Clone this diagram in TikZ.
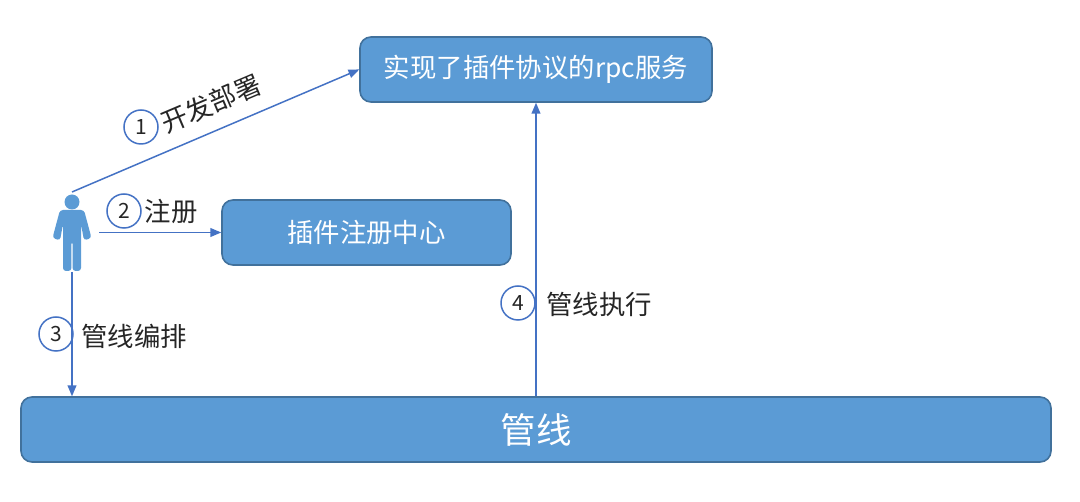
\documentclass[tikz,border=0pt]{standalone}
\usepackage{fontspec}
\setmainfont{Noto Sans CJK SC}
\usetikzlibrary{arrows,%
                shapes,positioning}
\definecolor{boxfill}{HTML}{5B9BD5}
\definecolor{boxline}{HTML}{41719C}
\definecolor{arrowline}{HTML}{4472C4}
\definecolor{labeltext}{HTML}{262626}
\newcommand{\fsize}[1]{\fontsize{#1}{#1}\selectfont}
\tikzset{
  bluebox/.style={draw=boxline, line width=1.6pt, fill=boxfill, rounded corners=11pt, text=white, inner sep=0pt},
  flow/.style={draw=arrowline, line width=1.5pt, -triangle 45},
  numcircle/.style={circle, draw=arrowline, line width=1.5pt, minimum size=34pt, inner sep=0pt, text=labeltext, font=\fsize{21}},
  steplabel/.style={text=labeltext, inner sep=0pt, font=\fsize{26.4}},
}
\begin{document}
\begin{tikzpicture}[x=1pt,y=-1pt]
\useasboundingbox (0,0) rectangle (1080,502);
\node[bluebox, minimum width=352pt, minimum height=65pt, font=\fsize{26.4}] (service) at (536,69.5) {实现了插件协议的rpc服务};
\node[bluebox, minimum width=289pt, minimum height=65pt, font=\fsize{26.4}] (registry) at (366.5,232.5) {插件注册中心};
\node[bluebox, minimum width=1030pt, minimum height=65pt, font=\fsize{35.5}] (pipeline) at (536,429.5) {管线};
% person
\node[circle, fill=boxfill, minimum size=15pt, inner sep=0pt] (head) at (72,202) {};
\fill[boxfill, rounded corners=3pt] (60,210) -- (84,210) -- (91.5,238) -- (84,240.5) -- (81,224) -- (81,271) -- (72.6,271) -- (72.6,241) -- (71.4,241) -- (71.4,271) -- (63,271) -- (63,224) -- (60,240.5) -- (52.5,238) -- cycle;
\coordinate (persontop) at (72,192);
\coordinate (personright) at (99,232.5);
\coordinate (personfoot) at (72,272);
% steps
\draw[flow] (persontop) -- (service.west);
\draw[flow] (personright) -- (registry.west);
\draw[flow] (personfoot) -- (personfoot |- pipeline.north);
\draw[flow] (pipeline.north) -- (service.south);
\node[numcircle] (one) at (141,127) {1};
\node[numcircle] (two) at (124,211) {2};
\node[numcircle] (three) at (56,334) {3};
\node[numcircle] (four) at (518,303) {4};
\node[steplabel, rotate=23] (deploy) at (211,103.5) {开发部署};
\node[steplabel] (register) at (171,211) {注册};
\node[steplabel] (arrange) at (134,336) {管线编排};
\node[steplabel] (execute) at (599,304) {管线执行};
\end{tikzpicture}
\end{document}
